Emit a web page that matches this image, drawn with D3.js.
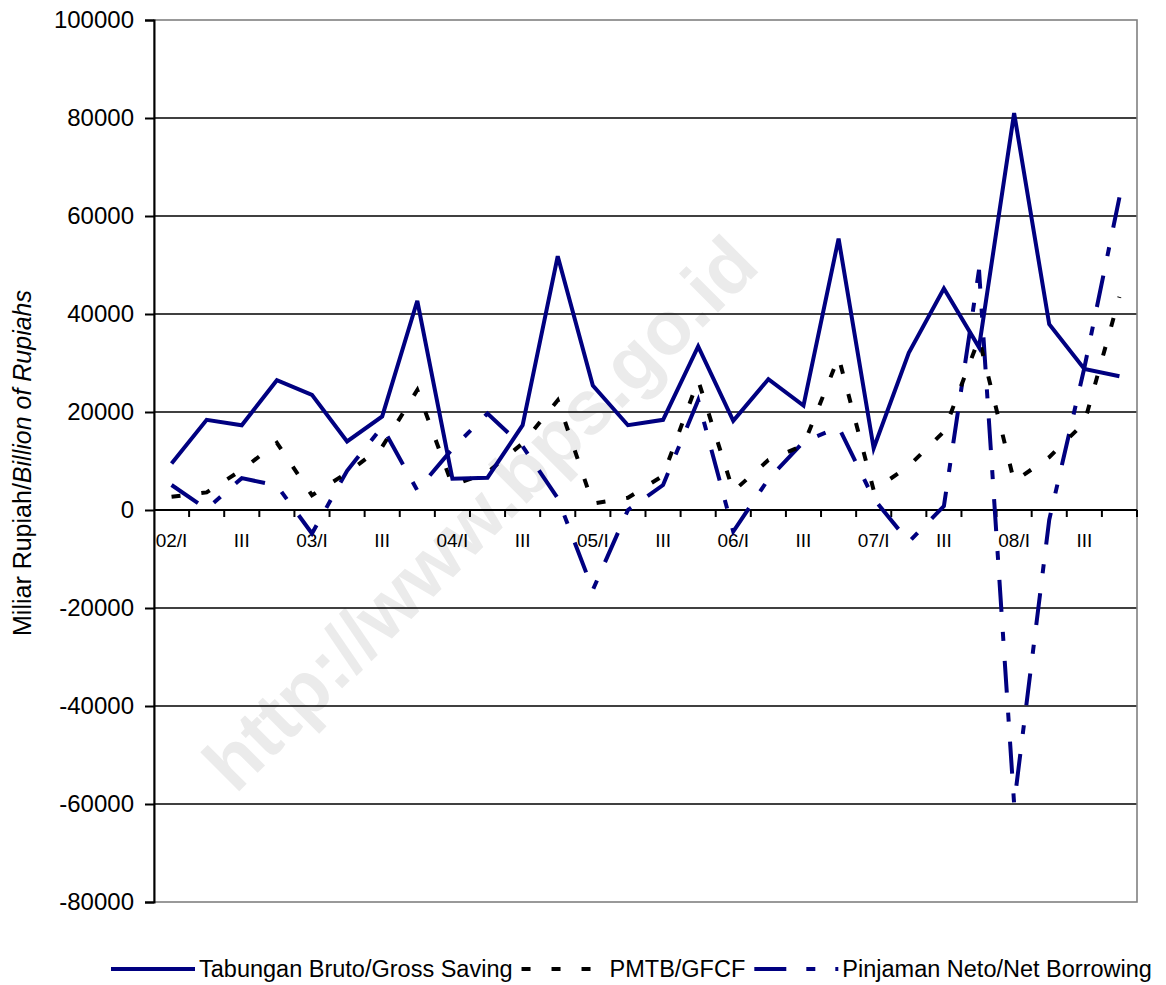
<!DOCTYPE html>
<html>
<head>
<meta charset="utf-8">
<script src="https://cdn.jsdelivr.net/npm/d3@7"></script>
<style>
  html, body { margin: 0; padding: 0; background: #ffffff; }
  svg { display: block; }
  text { font-family: "Liberation Sans", Arial, sans-serif; }
</style>
</head>
<body>
<script>
// ---------- data ----------
const categories = [
  "02/I","II","III","IV",
  "03/I","II","III","IV",
  "04/I","II","III","IV",
  "05/I","II","III","IV",
  "06/I","II","III","IV",
  "07/I","II","III","IV",
  "08/I","II","III","IV"
];
const grossSaving = [
  9500, 18400, 17300, 26500,
  23500, 14000, 19100, 42700,
  6400, 6600, 17300, 51800,
  25400, 17300, 18400, 33400,
  18200, 26700, 21300, 55400,
  12600, 32100, 45200, 33200,
  81000, 37900, 28800, 27300
];
const gfcf = [
  2700, 3600, 8200, 13700,
  3000, 7600, 12900, 24500,
  5000, 7700, 13600, 22400,
  1300, 2500, 7000, 26500,
  3800, 10200, 13200, 31200,
  4000, 9000, 16000, 35000,
  5800, 10800, 17800, 43500
];
const netBorrowing = [
  5100, 200, 6500, 5000,
  -4800, 8000, 17000, 4000,
  12500, 19700, 13000, 2400,
  -16300, 0, 5100, 22400,
  -4400, 6300, 13900, 16900,
  2300, -6500, 800, 49000,
  -60000, -2000, 29000, 63800
];
const yTickValues = [-80000, -60000, -40000, -20000, 0, 20000, 40000, 60000, 80000, 100000];
const seriesNames = ["Tabungan Bruto/Gross Saving", "PMTB/GFCF", "Pinjaman Neto/Net Borrowing"];
const yTitleNormal = "Miliar Rupiah/";
const yTitleItalic = "Billion of Rupiahs";
const watermarkText = "http://www.bps.go.id";

// ---------- layout ----------
const W = 1166, H = 985;
const plotL = 154, plotR = 1137, plotT = 20, plotB = 902;
const navy = "#000080";

const svg = d3.select("body").append("svg").attr("width", W).attr("height", H);
svg.append("rect").attr("width", W).attr("height", H).attr("fill", "#ffffff");

const x = d3.scaleBand().domain(d3.range(categories.length)).range([plotL, plotR]).padding(0);
const y = d3.scaleLinear().domain([-80000, 100000]).range([plotB, plotT]);
const cx = i => x(i) + x.bandwidth() / 2;

// watermark (behind everything)
svg.append("text")
  .attr("transform", `translate(480,513) rotate(-45)`)
  .attr("text-anchor", "middle")
  .attr("dominant-baseline", "central")
  .attr("font-size", 76)
  .attr("font-weight", "bold")
  .attr("fill", "#ebebeb")
  .text(watermarkText);

// gridlines
const grid = svg.append("g");
grid.selectAll("line")
  .data(yTickValues.filter(v => v !== 0 && v !== 100000 && v !== -80000))
  .join("line")
  .attr("x1", plotL).attr("x2", plotR)
  .attr("y1", d => y(d)).attr("y2", d => y(d))
  .attr("stroke", "#000").attr("stroke-width", 1.6);

// plot border (grey)
svg.append("rect")
  .attr("x", plotL).attr("y", y(100000))
  .attr("width", plotR - plotL).attr("height", y(-80000) - y(100000))
  .attr("fill", "none").attr("stroke", "#808080").attr("stroke-width", 1.6);

// y axis
const yAxis = d3.axisLeft(y).tickValues(yTickValues).tickSize(9).tickPadding(11).tickFormat(d => String(d));
const gy = svg.append("g").attr("transform", `translate(${plotL},0)`).call(yAxis);
gy.select(".domain").attr("stroke", "#000").attr("stroke-width", 2);
gy.selectAll(".tick line").attr("stroke", "#000").attr("stroke-width", 2);
gy.selectAll(".tick text").attr("font-size", 24).attr("fill", "#000")
  .attr("font-family", '"Liberation Sans", Arial, sans-serif');

// x axis at zero
const gx = svg.append("g");
gx.append("line")
  .attr("x1", plotL).attr("x2", plotR).attr("y1", y(0)).attr("y2", y(0))
  .attr("stroke", "#000").attr("stroke-width", 2);
gx.selectAll("line.tk")
  .data(d3.range(1, categories.length + 1))
  .join("line").attr("class", "tk")
  .attr("x1", i => plotL + i * x.bandwidth()).attr("x2", i => plotL + i * x.bandwidth())
  .attr("y1", y(0)).attr("y2", y(0) + 7)
  .attr("stroke", "#000").attr("stroke-width", 2);
gx.selectAll("text")
  .data(categories.map((c, i) => ({ c, i })).filter(d => d.i % 2 === 0))
  .join("text")
  .attr("x", d => cx(d.i)).attr("y", y(0) + 37)
  .attr("text-anchor", "middle").attr("font-size", 19).attr("fill", "#000")
  .text(d => d.c);

// y title
const yt = svg.append("text")
  .attr("transform", `translate(31,463) rotate(-90)`)
  .attr("text-anchor", "middle").attr("font-size", 25).attr("fill", "#000");
yt.append("tspan").text(yTitleNormal);
yt.append("tspan").attr("font-style", "italic").text(yTitleItalic);

// series
const line = d3.line().x((d, i) => cx(i)).y(d => y(d));
const styles = [
  { data: grossSaving, color: navy, dash: null },
  { data: gfcf, color: "#000000", dash: "9,21" },
  { data: netBorrowing, color: navy, dash: "32,20,9,20" }
];
[2, 1, 0].forEach(k => {
  const s = styles[k];
  svg.append("path")
    .datum(s.data)
    .attr("d", line)
    .attr("fill", "none")
    .attr("stroke", s.color)
    .attr("stroke-width", 4)
    .attr("stroke-linejoin", "miter")
    .attr("stroke-dasharray", s.dash);
});

// legend
const lg = svg.append("g");
let lx = 111;
const ly = 969;
styles.forEach((s, k) => {
  lg.append("line")
    .attr("x1", lx).attr("x2", lx + 84)
    .attr("y1", ly).attr("y2", ly)
    .attr("stroke", s.color).attr("stroke-width", 4)
    .attr("stroke-dasharray", s.dash);
  const t = lg.append("text")
    .attr("x", lx + 88).attr("y", ly + 8)
    .attr("font-size", 23.5).attr("fill", "#000")
    .text(seriesNames[k]);
  lx = lx + 88 + t.node().getComputedTextLength() + 9;
});
</script>
</body>
</html>
